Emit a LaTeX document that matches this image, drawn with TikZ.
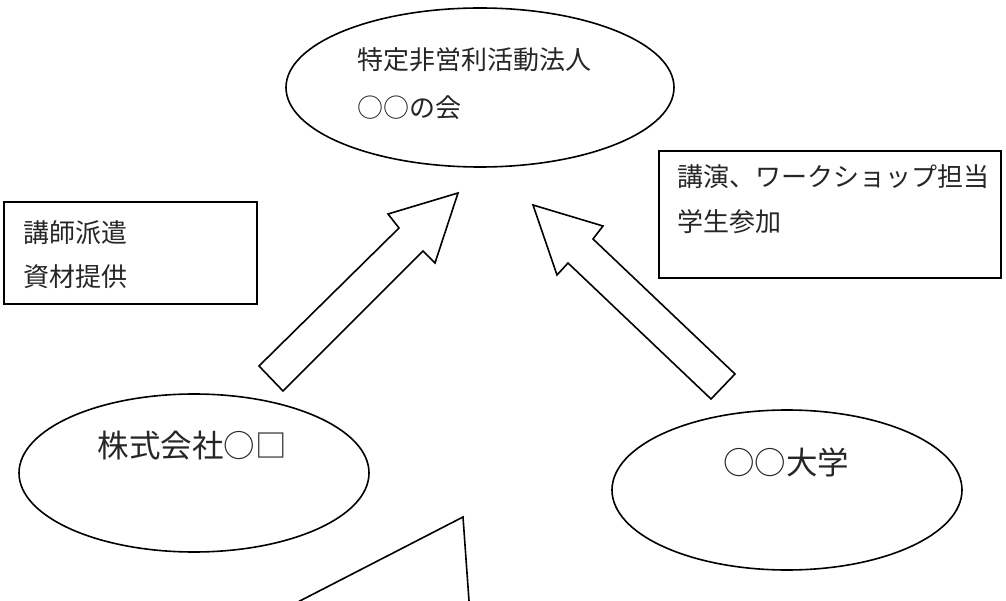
\documentclass[tikz,border=0pt]{standalone}
\usepackage{fontspec}
\setmainfont{Noto Sans CJK JP}
\usetikzlibrary{shapes.geometric}
\tikzset{
  shapeline/.style={draw=black, line width=1.6pt, line join=miter},
  oval/.style={shapeline, ellipse, inner sep=0pt},
  infobox/.style={shapeline},
  smalltext/.style={anchor=base west, inner sep=0pt, font=\fontsize{26}{26}\selectfont, text=black!85},
  bigtext/.style={anchor=base, inner sep=0pt, font=\fontsize{31.5}{31.5}\selectfont, text=black!85},
}
\begin{document}
\begin{tikzpicture}[x=1pt,y=-1pt]
\useasboundingbox (0,0) rectangle (1006,601);
\clip (0,0) rectangle (1006,601);

% top ellipse
\node[oval, minimum width=388pt, minimum height=159pt] (npo) at (480,87.5) {};
\node[smalltext] (npoA) at (357,70) {特定非営利活動法人};
\node[smalltext] (npoB) at (357,118) {○○の会};

% left box
\draw[infobox] (4,202) rectangle (257,304);
\node[smalltext] (boxLA) at (23,243) {講師派遣};
\node[smalltext] (boxLB) at (23,287) {資材提供};

% right box
\draw[infobox] (659,151) rectangle (1001,278);
\node[smalltext] (boxRA) at (677,187) {講演、ワークショップ担当};
\node[smalltext] (boxRB) at (677,232) {学生参加};

% left ellipse
\node[oval, minimum width=350pt, minimum height=158pt] (corp) at (194,473) {};
\node[bigtext] (corpT) at (192,457) {株式会社○□};

% right ellipse
\node[oval, minimum width=350pt, minimum height=160pt] (univ) at (787,490) {};
\node[bigtext] (univT) at (786,474) {○○大学};

% left block arrow
\draw[shapeline] (458,193) -- (435,263) -- (423,251) -- (283,391) -- (259,366)
  -- (399,228) -- (388,214) -- cycle;

% right block arrow
\draw[shapeline] (533,205) -- (603,226) -- (593,239) -- (735,374) -- (711,399)
  -- (568,263) -- (557,275) -- cycle;

% bottom partial shape
\draw[shapeline] (292,605) -- (463,517) -- (469.3,605);
\end{tikzpicture}
\end{document}
